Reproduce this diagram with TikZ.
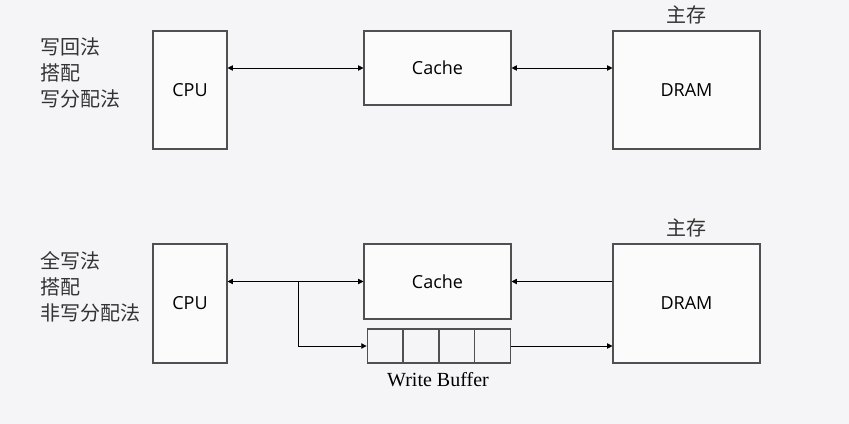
\documentclass[tikz,border=0pt]{standalone}
\usepackage{fontspec}
\setmainfont{Open Sans}
\newfontfamily\cjk{Noto Sans CJK SC}
\newfontfamily\bufont{Liberation Serif}
\usepackage{tikz}
\usetikzlibrary{positioning, arrows.meta, calc}
\definecolor{mBack}{HTML}{F5F5F7}
\definecolor{mLine}{HTML}{505050}

\begin{document}
\begin{tikzpicture}[
  x=0.75pt, y=-0.75pt,
  unit/.style={draw=mLine, line width=0.8pt, fill=white!60!mBack, inner sep=0pt,
               font=\fontsize{13.5}{16}\selectfont},
  cell/.style={draw=mLine, line width=0.8pt, inner sep=0pt,
               minimum width=26.8pt, minimum height=25.5pt},
  note/.style={font=\cjk\fontsize{15}{19.5}\selectfont, align=left, text=black!80},
  link/.style={line width=0.6pt, -{Triangle[length=4pt, width=4pt]}},
  dlink/.style={line width=0.6pt, {Triangle[length=4pt, width=4pt]}-{Triangle[length=4pt, width=4pt]}},
]
  \fill[mBack] (0,0) rectangle (849,424);
  \useasboundingbox (0,0) rectangle (849,424);

  \node[unit, minimum width=55.5pt, minimum height=88.5pt] (cpuA) at (190,90) {CPU};
  \node[unit, minimum width=110.25pt, minimum height=55.5pt] (cacheA) at (437.5,68) {Cache};
  \node[unit, minimum width=110.25pt, minimum height=88.5pt] (dramA) at (686.5,90) {DRAM};
  \node[note, anchor=south, inner sep=2pt] (mainA) at ($(dramA.north)+(0,-3)$) {主存};
  \node[note, anchor=west] (policyA) at (36,72.5) {写回法\\搭配\\写分配法};
  \draw[dlink] (cpuA.east |- cacheA.west) -- (cacheA.west);
  \draw[dlink] (cacheA.east) -- (cacheA.east -| dramA.west);

  \node[unit, minimum width=55.5pt, minimum height=89.25pt] (cpuB) at (190,303.5) {CPU};
  \node[unit, minimum width=110.25pt, minimum height=56.25pt] (cacheB) at (437.5,281.5) {Cache};
  \node[unit, minimum width=110.25pt, minimum height=89.25pt] (dramB) at (686.5,303.5) {DRAM};
  \node[note, anchor=south, inner sep=2pt] (mainB) at ($(dramB.north)+(0,-3)$) {主存};
  \node[note, anchor=west] (policyB) at (36,286.5) {全写法\\搭配\\非写分配法};
  \foreach \i/\x in {1/385, 2/421, 3/457, 4/492.5}
    \node[cell] (buf\i) at (\x,346) {};
  \node[font=\bufont\fontsize{15}{18}\selectfont] (bufname) at (438,380) {Write Buffer};
  \coordinate (split) at (298,281.5);
  \draw[dlink] (cpuB.east |- cacheB.west) -- (cacheB.west);
  \draw[link] (split) |- (buf1.west);
  \draw[link] (dramB.west |- cacheB.east) -- (cacheB.east);
  \draw[link] (buf4.east) -- (buf4.east -| dramB.west);
\end{tikzpicture}
\end{document}
